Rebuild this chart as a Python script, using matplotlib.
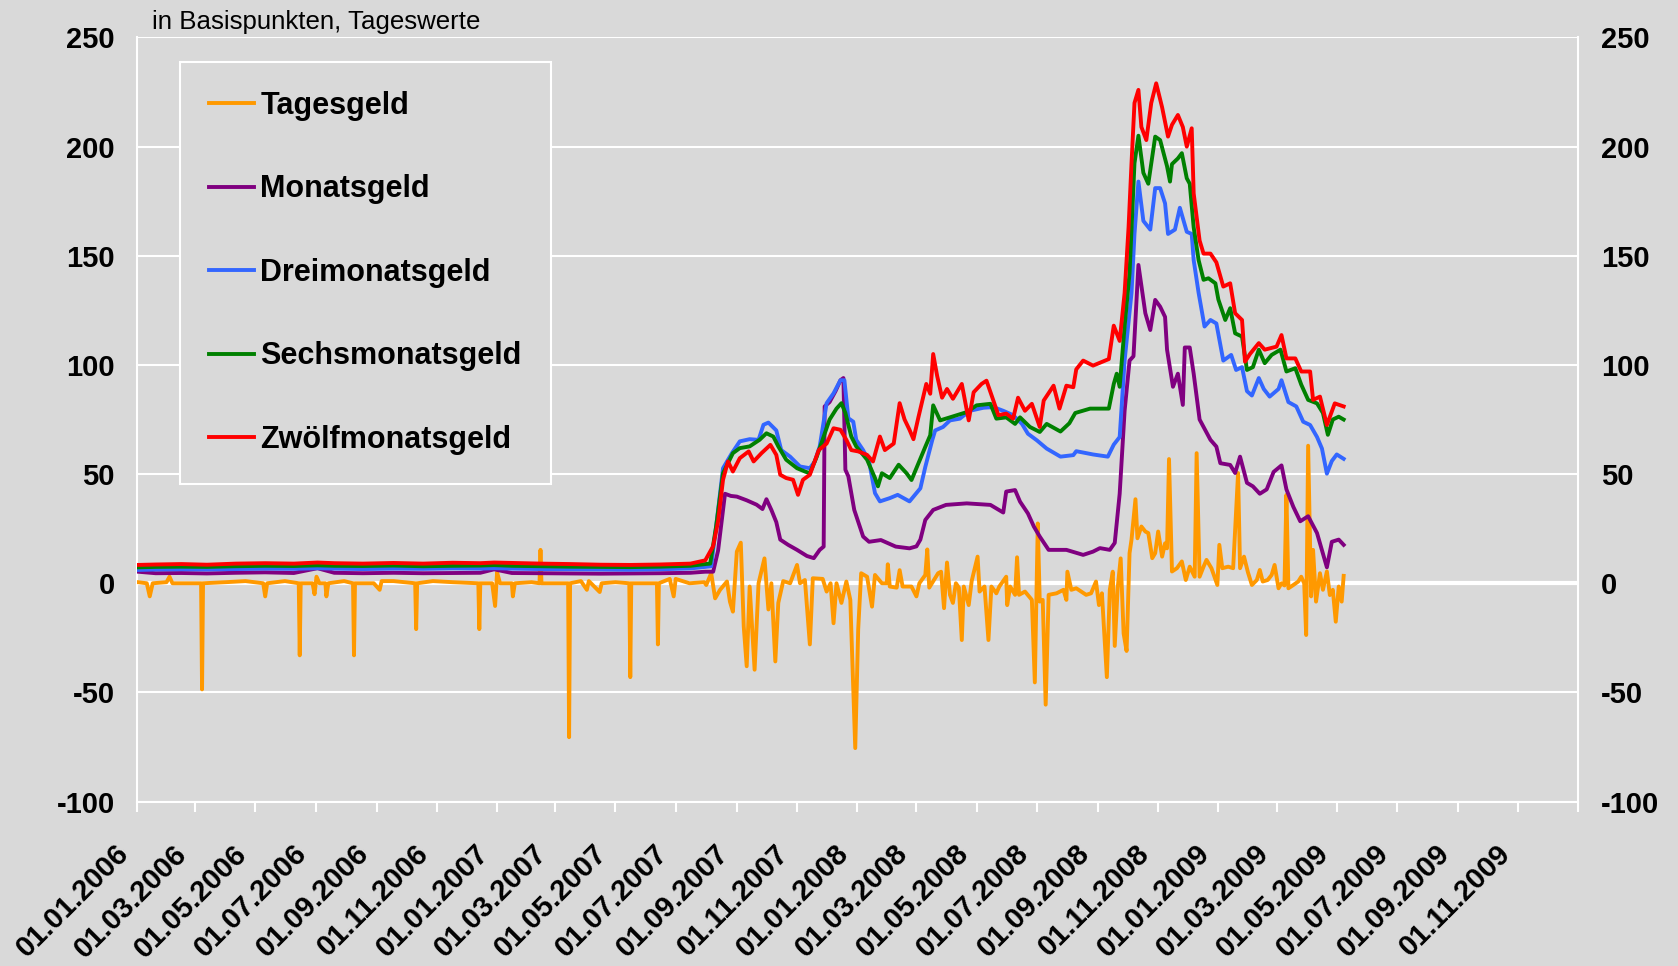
import matplotlib
matplotlib.use('Agg')
import matplotlib.pyplot as plt
import matplotlib.transforms as mtransforms
import pandas as pd

# Geldmarktsätze minus Leitzins, in Basispunkten
tagesgeld = [
    ('2006-01-02', 0.5), ('2006-01-11', 0), ('2006-01-14', -6), ('2006-01-17', 0),
    ('2006-01-31', 0.5), ('2006-02-03', 3), ('2006-02-06', 0), ('2006-03-02', 0),
    ('2006-03-07', 0), ('2006-03-08', -48.6), ('2006-03-09', 0), ('2006-04-01', 0.5),
    ('2006-04-21', 1), ('2006-05-09', 0), ('2006-05-11', -6), ('2006-05-13', 0),
    ('2006-05-31', 1), ('2006-06-14', 0), ('2006-06-15', -33), ('2006-06-16', 0),
    ('2006-06-28', 0), ('2006-06-30', -5), ('2006-07-02', 3), ('2006-07-05', 0),
    ('2006-07-11', 0), ('2006-07-12', -6), ('2006-07-14', 0), ('2006-07-30', 1),
    ('2006-08-08', 0), ('2006-08-09', -33), ('2006-08-10', 0), ('2006-08-29', 0),
    ('2006-09-04', -3), ('2006-09-06', 1), ('2006-09-18', 1), ('2006-10-10', 0),
    ('2006-10-11', -21), ('2006-10-12', 0), ('2006-10-28', 1), ('2006-11-17', 0.5),
    ('2006-12-13', 0), ('2006-12-14', -21), ('2006-12-15', 0), ('2006-12-27', 0),
    ('2006-12-30', -10.4), ('2007-01-01', 5), ('2007-01-04', 0), ('2007-01-16', 0),
    ('2007-01-17', -6), ('2007-01-19', 0), ('2007-02-05', 0.5), ('2007-02-13', 0),
    ('2007-02-14', 15.3), ('2007-02-15', 0), ('2007-02-25', 0), ('2007-03-14', 0),
    ('2007-03-15', -70.5), ('2007-03-16', 0), ('2007-03-27', 1), ('2007-04-02', -3),
    ('2007-04-04', 1), ('2007-04-15', -4), ('2007-04-17', 0), ('2007-05-01', 0.5),
    ('2007-05-15', 0), ('2007-05-16', -43), ('2007-05-17', 0), ('2007-05-31', 0),
    ('2007-06-12', 0), ('2007-06-13', -28), ('2007-06-14', 0), ('2007-06-25', 2),
    ('2007-06-29', -6), ('2007-07-01', 2), ('2007-07-15', 0), ('2007-07-30', 0.5),
    ('2007-08-01', -0.8), ('2007-08-06', 4.6), ('2007-08-10', -6.9), ('2007-08-15', -3),
    ('2007-08-22', 0.8), ('2007-08-25', -8.4), ('2007-08-28', -13), ('2007-09-01', 14.5),
    ('2007-09-05', 18.6), ('2007-09-08', -19.8), ('2007-09-11', -38), ('2007-09-14', -1.5),
    ('2007-09-19', -39.6), ('2007-09-23', 0), ('2007-09-29', 11.4), ('2007-10-03', -12),
    ('2007-10-06', 0), ('2007-10-10', -35.8), ('2007-10-13', -9), ('2007-10-18', 1),
    ('2007-10-25', 0), ('2007-11-01', 8.4), ('2007-11-04', 0), ('2007-11-09', 1.5),
    ('2007-11-14', -28), ('2007-11-17', 2.3), ('2007-11-27', 2), ('2007-12-01', -3.8),
    ('2007-12-05', 0), ('2007-12-08', -18.3), ('2007-12-11', 0), ('2007-12-16', -9),
    ('2007-12-21', 0.8), ('2007-12-25', -7.6), ('2007-12-30', -75.5), ('2008-01-02', -21),
    ('2008-01-05', 4.6), ('2008-01-11', 3), ('2008-01-16', -10.7), ('2008-01-19', 3.8),
    ('2008-01-26', 0), ('2008-01-31', 0), ('2008-02-01', 8.7), ('2008-02-03', -1.5),
    ('2008-02-10', -2), ('2008-02-13', 6), ('2008-02-16', -1.5), ('2008-02-25', -1.5),
    ('2008-03-01', -6), ('2008-03-04', 0), ('2008-03-10', 3.8), ('2008-03-12', 15.5),
    ('2008-03-14', -2), ('2008-03-23', 4.6), ('2008-03-26', 5.3), ('2008-03-29', -11.4),
    ('2008-04-01', 9.5), ('2008-04-04', -5.3), ('2008-04-07', -9), ('2008-04-10', 0),
    ('2008-04-13', -2), ('2008-04-16', -26), ('2008-04-18', -1.5), ('2008-04-23', -10),
    ('2008-04-26', 1), ('2008-05-02', 12.2), ('2008-05-04', -3.8), ('2008-05-09', -1.5),
    ('2008-05-13', -26), ('2008-05-16', -1.5), ('2008-05-21', -4.6), ('2008-05-24', -1.5),
    ('2008-05-31', 3), ('2008-06-01', -10), ('2008-06-04', -1.5), ('2008-06-09', -5.3),
    ('2008-06-11', 11.9), ('2008-06-13', -5.3), ('2008-06-19', -3.8), ('2008-06-26', -7.6),
    ('2008-06-29', -45.4), ('2008-07-02', 27.4), ('2008-07-04', -8.4), ('2008-07-07', -7.6),
    ('2008-07-10', -55.6), ('2008-07-13', -5.3), ('2008-07-21', -4.6), ('2008-07-28', -3),
    ('2008-07-31', -7.6), ('2008-08-01', 5.3), ('2008-08-05', -3), ('2008-08-10', -2.3),
    ('2008-08-15', -3.8), ('2008-08-20', -5.3), ('2008-08-25', -4.6), ('2008-08-30', 0.8),
    ('2008-09-02', -10), ('2008-09-05', -4.6), ('2008-09-10', -43), ('2008-09-13', -3),
    ('2008-09-16', 5.3), ('2008-09-18', -28.7), ('2008-09-21', -2), ('2008-09-24', 11.4),
    ('2008-09-27', -23), ('2008-09-30', -31), ('2008-10-03', 13.8), ('2008-10-05', 20),
    ('2008-10-09', 38.5), ('2008-10-11', 20.6), ('2008-10-15', 26), ('2008-10-19', 23.7),
    ('2008-10-22', 23), ('2008-10-26', 11.5), ('2008-10-29', 13.8), ('2008-11-01', 23.7),
    ('2008-11-05', 12.2), ('2008-11-08', 18.3), ('2008-11-10', 16), ('2008-11-12', 56.9),
    ('2008-11-15', 5.4), ('2008-11-20', 6.9), ('2008-11-25', 10), ('2008-11-29', 1.5),
    ('2008-12-03', 7.6), ('2008-12-08', 3), ('2008-12-10', 59.6), ('2008-12-13', 3),
    ('2008-12-17', 7.6), ('2008-12-20', 10.7), ('2008-12-25', 6.9), ('2008-12-31', -0.8),
    ('2009-01-02', 17.6), ('2009-01-05', 6.9), ('2009-01-11', 7.6), ('2009-01-16', 6.9),
    ('2009-01-21', 50.5), ('2009-01-23', 6.9), ('2009-01-27', 12.2), ('2009-01-31', 5),
    ('2009-02-04', -0.8), ('2009-02-09', 1.5), ('2009-02-12', 6.1), ('2009-02-15', 0.8),
    ('2009-02-20', 1.5), ('2009-02-24', 3.8), ('2009-02-27', 8.4), ('2009-03-03', -2.3),
    ('2009-03-06', 0), ('2009-03-09', -1), ('2009-03-11', 40.5), ('2009-03-13', -2.3),
    ('2009-03-18', -0.8), ('2009-03-23', 0.8), ('2009-03-26', 3), ('2009-03-29', 0),
    ('2009-03-31', -23.7), ('2009-04-02', 63), ('2009-04-05', -6), ('2009-04-07', 15.3),
    ('2009-04-10', -8.4), ('2009-04-14', 4.6), ('2009-04-17', -3), ('2009-04-21', 5.4),
    ('2009-04-24', -5.4), ('2009-04-27', -3), ('2009-04-30', -17.6), ('2009-05-03', -1.5),
    ('2009-05-06', -8.4), ('2009-05-08', 3.4),
]

monatsgeld = [
    ('2006-01-02', 5.3), ('2006-01-20', 4.6), ('2006-02-15', 4.7), ('2006-03-13', 4.5),
    ('2006-04-11', 4.8), ('2006-05-11', 5.0), ('2006-06-09', 4.7), ('2006-07-03', 6.9),
    ('2006-07-20', 4.8), ('2006-08-18', 4.6), ('2006-09-18', 4.8), ('2006-10-18', 4.6),
    ('2006-11-17', 4.7), ('2006-12-15', 4.8), ('2006-12-29', 6.4), ('2007-01-16', 4.7),
    ('2007-02-15', 4.6), ('2007-03-16', 4.5), ('2007-04-16', 4.4), ('2007-05-16', 4.5),
    ('2007-06-15', 4.6), ('2007-07-16', 4.8), ('2007-07-31', 5.3),
    ('2007-08-08', 5.3), ('2007-08-13', 15), ('2007-08-20', 41), ('2007-08-26', 40),
    ('2007-09-01', 39.7), ('2007-09-11', 38), ('2007-09-21', 36), ('2007-09-27', 34),
    ('2007-10-01', 38.5), ('2007-10-06', 33.6), ('2007-10-11', 28), ('2007-10-15', 20),
    ('2007-10-23', 17.6), ('2007-11-01', 15.3), ('2007-11-11', 12.5), ('2007-11-18', 11.5),
    ('2007-11-24', 15.3), ('2007-11-28', 16.8), ('2007-11-29', 81), ('2007-12-04', 83),
    ('2007-12-10', 88), ('2007-12-15', 93), ('2007-12-18', 94), ('2007-12-20', 52),
    ('2007-12-23', 49), ('2007-12-29', 33.6), ('2008-01-07', 21.4), ('2008-01-13', 19),
    ('2008-01-25', 19.8), ('2008-02-09', 16.8), ('2008-02-23', 16), ('2008-03-01', 16.9),
    ('2008-03-05', 20), ('2008-03-10', 29), ('2008-03-18', 33.6), ('2008-03-31', 35.9),
    ('2008-04-21', 36.6), ('2008-05-15', 35.9), ('2008-05-28', 32.4), ('2008-05-31', 42),
    ('2008-06-09', 42.7), ('2008-06-14', 37.4), ('2008-06-22', 32), ('2008-06-28', 26),
    ('2008-07-04', 21.4), ('2008-07-13', 15.3), ('2008-07-31', 15.3), ('2008-08-17', 13),
    ('2008-08-27', 14.5), ('2008-09-03', 16.1), ('2008-09-13', 15.3), ('2008-09-18', 18.5),
    ('2008-09-23', 41), ('2008-09-28', 79), ('2008-10-03', 102), ('2008-10-07', 104),
    ('2008-10-12', 145.8), ('2008-10-19', 123.7), ('2008-10-24', 116), ('2008-10-29', 129.8),
    ('2008-11-03', 126.7), ('2008-11-08', 122), ('2008-11-10', 107), ('2008-11-16', 90),
    ('2008-11-21', 96), ('2008-11-26', 81.7), ('2008-11-28', 108), ('2008-12-03', 108),
    ('2008-12-07', 96), ('2008-12-13', 75), ('2008-12-24', 65.7), ('2008-12-30', 62.6),
    ('2009-01-03', 55), ('2009-01-13', 54.2), ('2009-01-18', 50.5), ('2009-01-23', 58),
    ('2009-01-30', 46), ('2009-02-05', 44.4), ('2009-02-12', 41), ('2009-02-19', 43),
    ('2009-02-26', 51), ('2009-03-06', 54), ('2009-03-11', 43), ('2009-03-18', 35),
    ('2009-03-25', 28.4), ('2009-04-02', 30.7), ('2009-04-11', 23), ('2009-04-21', 7.3),
    ('2009-04-26', 19), ('2009-05-03', 20), ('2009-05-08', 17.6),
]

dreimonatsgeld = [
    ('2006-01-02', 6.1), ('2006-01-20', 6.3), ('2006-02-15', 6.4), ('2006-03-13', 6.3),
    ('2006-04-11', 6.5), ('2006-05-11', 6.7), ('2006-06-09', 6.6), ('2006-07-03', 6.9),
    ('2006-07-20', 6.7), ('2006-08-18', 6.5), ('2006-09-18', 6.7), ('2006-10-18', 6.6),
    ('2006-11-17', 6.8), ('2006-12-15', 6.7), ('2006-12-29', 6.9), ('2007-01-16', 6.7),
    ('2007-02-15', 6.5), ('2007-03-16', 6.4), ('2007-04-16', 6.3), ('2007-05-16', 6.2),
    ('2007-06-15', 6.4), ('2007-07-16', 6.8), ('2007-07-31', 7.5),
    ('2007-08-06', 7.8), ('2007-08-11', 26), ('2007-08-18', 52.7), ('2007-08-27', 59.6),
    ('2007-09-04', 65), ('2007-09-14', 66), ('2007-09-23', 65.7), ('2007-09-28', 72.6),
    ('2007-10-03', 73.6), ('2007-10-11', 70), ('2007-10-16', 61), ('2007-10-25', 58),
    ('2007-11-04', 53.5), ('2007-11-14', 52.7), ('2007-11-19', 55.8), ('2007-11-24', 62.7),
    ('2007-12-01', 82.5), ('2007-12-08', 87), ('2007-12-15', 93), ('2007-12-19', 93),
    ('2007-12-23', 75.6), ('2007-12-28', 74), ('2007-12-31', 65.7), ('2008-01-07', 61),
    ('2008-01-13', 55.8), ('2008-01-19', 41.3), ('2008-01-24', 37.5), ('2008-02-03', 39),
    ('2008-02-11', 40.5), ('2008-02-23', 37.5), ('2008-03-05', 43.5), ('2008-03-10', 53.3),
    ('2008-03-17', 65.5), ('2008-03-20', 70), ('2008-03-28', 71.6), ('2008-04-04', 74.6),
    ('2008-04-14', 75.4), ('2008-04-24', 79), ('2008-05-08', 80.4), ('2008-05-18', 80.7),
    ('2008-05-28', 79), ('2008-06-07', 77), ('2008-06-16', 73), ('2008-06-22', 68.5),
    ('2008-07-01', 65.5), ('2008-07-11', 61.7), ('2008-07-25', 58), ('2008-08-07', 58.7),
    ('2008-08-10', 60.5), ('2008-08-27', 59), ('2008-09-11', 58), ('2008-09-17', 63.5),
    ('2008-09-23', 67), ('2008-09-28', 102), ('2008-10-05', 133), ('2008-10-08', 160),
    ('2008-10-12', 184), ('2008-10-17', 166), ('2008-10-24', 162), ('2008-10-29', 181),
    ('2008-11-03', 181), ('2008-11-08', 174), ('2008-11-11', 160), ('2008-11-18', 162),
    ('2008-11-23', 172), ('2008-11-30', 161), ('2008-12-05', 160), ('2008-12-07', 148),
    ('2008-12-12', 133), ('2008-12-18', 117.6), ('2008-12-24', 120.6), ('2008-12-30', 119),
    ('2009-01-06', 102), ('2009-01-14', 104.6), ('2009-01-19', 97.7), ('2009-01-25', 99),
    ('2009-01-30', 88), ('2009-02-04', 86), ('2009-02-11', 94), ('2009-02-16', 89),
    ('2009-02-22', 85.5), ('2009-03-03', 89), ('2009-03-06', 93), ('2009-03-13', 83),
    ('2009-03-21', 81), ('2009-03-28', 74), ('2009-04-04', 72.5), ('2009-04-11', 67),
    ('2009-04-16', 61.7), ('2009-04-21', 50.2), ('2009-04-26', 56), ('2009-05-01', 59),
    ('2009-05-08', 57),
]

sechsmonatsgeld = [
    ('2006-01-02', 7.3), ('2006-01-20', 7.5), ('2006-02-15', 7.6), ('2006-03-13', 7.5),
    ('2006-04-11', 7.8), ('2006-05-11', 8.0), ('2006-06-09', 7.9), ('2006-07-03', 8.2),
    ('2006-07-20', 8.0), ('2006-08-18', 7.9), ('2006-09-18', 8.1), ('2006-10-18', 7.8),
    ('2006-11-17', 8.0), ('2006-12-15', 8.1), ('2006-12-29', 8.3), ('2007-01-16', 8.0),
    ('2007-02-15', 7.8), ('2007-03-16', 7.6), ('2007-04-16', 7.5), ('2007-05-16', 7.4),
    ('2007-06-15', 7.6), ('2007-07-16', 8.0), ('2007-07-31', 8.8),
    ('2007-08-05', 9), ('2007-08-11', 26), ('2007-08-18', 50.4), ('2007-08-28', 59.6),
    ('2007-09-04', 61.9), ('2007-09-14', 62.7), ('2007-09-24', 65.7), ('2007-10-01', 68.7),
    ('2007-10-08', 67.2), ('2007-10-13', 62.7), ('2007-10-21', 56.6), ('2007-11-01', 52.7),
    ('2007-11-09', 51.2), ('2007-11-14', 50.4), ('2007-11-21', 58), ('2007-11-28', 67.2),
    ('2007-12-04', 75), ('2007-12-11', 80), ('2007-12-16', 82.5), ('2007-12-20', 78),
    ('2007-12-26', 67.2), ('2007-12-31', 62.7), ('2008-01-11', 56.6), ('2008-01-19', 48.2),
    ('2008-01-22', 44.4), ('2008-01-26', 50.4), ('2008-02-03', 48.2), ('2008-02-12', 54.3),
    ('2008-02-20', 50.4), ('2008-02-25', 47.3), ('2008-03-03', 54.9), ('2008-03-10', 62.5),
    ('2008-03-15', 67.8), ('2008-03-18', 81.5), ('2008-03-25', 74.6), ('2008-04-04', 76),
    ('2008-04-21', 78.4), ('2008-05-01', 81.5), ('2008-05-15', 82.2), ('2008-05-21', 75.4),
    ('2008-05-31', 76), ('2008-06-09', 73), ('2008-06-14', 76), ('2008-06-24', 71.6),
    ('2008-07-04', 69.3), ('2008-07-11', 73), ('2008-07-25', 69.5), ('2008-08-03', 73.3),
    ('2008-08-09', 78), ('2008-08-24', 80), ('2008-09-12', 80), ('2008-09-17', 91.3),
    ('2008-09-20', 96), ('2008-09-23', 90), ('2008-09-28', 117.6), ('2008-10-03', 142),
    ('2008-10-08', 192.4), ('2008-10-12', 205), ('2008-10-17', 188), ('2008-10-22', 183),
    ('2008-10-29', 204.6), ('2008-11-03', 203), ('2008-11-10', 191), ('2008-11-13', 184),
    ('2008-11-15', 192), ('2008-11-21', 194.6), ('2008-11-25', 197), ('2008-11-30', 185.5),
    ('2008-12-03', 183), ('2008-12-07', 163), ('2008-12-12', 148), ('2008-12-17', 139),
    ('2008-12-22', 139.7), ('2008-12-29', 137.4), ('2009-01-01', 130), ('2009-01-08', 120.6),
    ('2009-01-13', 126), ('2009-01-18', 114.5), ('2009-01-25', 113), ('2009-01-30', 97.7),
    ('2009-02-05', 99), ('2009-02-11', 107), ('2009-02-17', 100.8), ('2009-02-24', 104.6),
    ('2009-03-05', 107), ('2009-03-11', 97), ('2009-03-20', 98.5), ('2009-03-26', 91),
    ('2009-04-02', 84), ('2009-04-11', 82.4), ('2009-04-17', 78), ('2009-04-22', 68),
    ('2009-04-27', 75), ('2009-05-03', 76.3), ('2009-05-08', 75),
]

zwoelfmonatsgeld = [
    ('2006-01-02', 8.4), ('2006-01-20', 8.6), ('2006-02-15', 8.8), ('2006-03-13', 8.5),
    ('2006-04-11', 9.0), ('2006-05-11', 9.2), ('2006-06-09', 9.0), ('2006-07-03', 9.5),
    ('2006-07-20', 9.2), ('2006-08-18', 9.0), ('2006-09-18', 9.3), ('2006-10-18', 9.0),
    ('2006-11-17', 9.4), ('2006-12-15', 9.2), ('2006-12-29', 9.5), ('2007-01-16', 9.3),
    ('2007-02-15', 9.0), ('2007-03-16', 8.8), ('2007-04-16', 8.5), ('2007-05-16', 8.4),
    ('2007-06-15', 8.6), ('2007-07-16', 9.0), ('2007-07-31', 10.5),
    ('2007-08-08', 17), ('2007-08-13', 28.4), ('2007-08-18', 47.4), ('2007-08-23', 55.8),
    ('2007-08-28', 51.2), ('2007-09-04', 57.3), ('2007-09-13', 60.4), ('2007-09-18', 55.8),
    ('2007-09-26', 59.6), ('2007-10-05', 63.4), ('2007-10-11', 58.8), ('2007-10-15', 49.7),
    ('2007-10-21', 48.2), ('2007-10-28', 47.4), ('2007-11-02', 40.5), ('2007-11-07', 47.4),
    ('2007-11-14', 49.7), ('2007-11-23', 61), ('2007-12-01', 64), ('2007-12-08', 71),
    ('2007-12-15', 70.3), ('2007-12-21', 65.7), ('2007-12-26', 61), ('2008-01-02', 60.4),
    ('2008-01-11', 58.8), ('2008-01-17', 55.8), ('2008-01-24', 67.2), ('2008-01-29', 61),
    ('2008-02-07', 64), ('2008-02-13', 82.5), ('2008-02-18', 75), ('2008-02-23', 70.3),
    ('2008-02-27', 66), ('2008-03-03', 76), ('2008-03-11', 91.3), ('2008-03-15', 86.8),
    ('2008-03-18', 105), ('2008-03-22', 95), ('2008-03-27', 85), ('2008-04-01', 89),
    ('2008-04-07', 84.5), ('2008-04-16', 91.3), ('2008-04-23', 74.6), ('2008-04-28', 87.5),
    ('2008-05-06', 91.3), ('2008-05-11', 92.8), ('2008-05-18', 83.7), ('2008-05-23', 77),
    ('2008-05-31', 77.7), ('2008-06-07', 75.4), ('2008-06-12', 85), ('2008-06-19', 79),
    ('2008-06-26', 82.2), ('2008-07-04', 71.6), ('2008-07-08', 83.7), ('2008-07-18', 90.5),
    ('2008-07-24', 80), ('2008-07-31', 90.5), ('2008-08-07', 89.8), ('2008-08-10', 98),
    ('2008-08-17', 102), ('2008-08-27', 99.7), ('2008-09-03', 101), ('2008-09-12', 102.7),
    ('2008-09-17', 118), ('2008-09-23', 111), ('2008-09-28', 133), ('2008-10-02', 163),
    ('2008-10-05', 192.4), ('2008-10-08', 220), ('2008-10-12', 226), ('2008-10-15', 209),
    ('2008-10-20', 203), ('2008-10-25', 220), ('2008-10-30', 229), ('2008-11-05', 218),
    ('2008-11-11', 204.6), ('2008-11-15', 210), ('2008-11-21', 214.5), ('2008-11-26', 209),
    ('2008-11-30', 200), ('2008-12-05', 208.4), ('2008-12-07', 178.6), ('2008-12-13', 157),
    ('2008-12-17', 151), ('2008-12-24', 151), ('2008-12-30', 147), ('2009-01-06', 135.9),
    ('2009-01-13', 137.4), ('2009-01-18', 123.7), ('2009-01-25', 120.6), ('2009-01-28', 101.5),
    ('2009-02-02', 105), ('2009-02-11', 110), ('2009-02-17', 107), ('2009-03-01', 108.4),
    ('2009-03-06', 113.7), ('2009-03-11', 103), ('2009-03-20', 103), ('2009-03-26', 97),
    ('2009-04-04', 97), ('2009-04-07', 84), ('2009-04-14', 85.5), ('2009-04-21', 72.5),
    ('2009-04-29', 82.4), ('2009-05-08', 81),
]

reihen = ['Tagesgeld', 'Monatsgeld', 'Dreimonatsgeld', 'Sechsmonatsgeld', 'Zwölfmonatsgeld']
farben = ['#ff9900', '#800080', '#3366ff', '#008000', '#ff0000']
x_labels = ['01.01.2006', '01.03.2006', '01.05.2006', '01.07.2006', '01.09.2006', '01.11.2006',
            '01.01.2007', '01.03.2007', '01.05.2007', '01.07.2007', '01.09.2007', '01.11.2007',
            '01.01.2008', '01.03.2008', '01.05.2008', '01.07.2008', '01.09.2008', '01.11.2008',
            '01.01.2009', '01.03.2009', '01.05.2009', '01.07.2009', '01.09.2009', '01.11.2009']
y_ticks = [-100, -50, 0, 50, 100, 150, 200, 250]

grau = '#d9d9d9'
plt.rcParams['font.family'] = ['Liberation Sans', 'DejaVu Sans']

fig = plt.figure(figsize=(16.78, 9.66), dpi=100, facecolor=grau)
ax = fig.add_axes([0.0816, 0.1702, 0.8591, 0.7910], facecolor=grau)

for name, daten, farbe in zip(reihen, [tagesgeld, monatsgeld, dreimonatsgeld,
                                        sechsmonatsgeld, zwoelfmonatsgeld], farben):
    df = pd.DataFrame(daten, columns=['datum', 'wert'])
    df['datum'] = pd.to_datetime(df['datum'])
    ax.plot(df['datum'], df['wert'], color=farbe, lw=2.8, label=name, zorder=3)

# achsen
ax.set_ylim(-100, 250)
ax.set_yticks(y_ticks)
ax.set_yticklabels([str(v) for v in y_ticks])
ax.yaxis.grid(True, color='white', lw=1.5)
ax.set_axisbelow(True)
ax.axhline(0, color='white', lw=3, zorder=2)
ax.tick_params(axis='y', length=0, pad=16, labelsize=21, labelright=True)

start, ende = pd.Timestamp('2006-01-01'), pd.Timestamp('2010-01-01')
ax.set_xlim(start, ende)
ticks = list(pd.to_datetime(x_labels, format='%d.%m.%Y')) + [ende]
ax.set_xticks(ticks)
ax.set_xticklabels(x_labels + [''], rotation=45, ha='right', va='center',
                   rotation_mode='anchor')
ax.tick_params(axis='x', direction='out', length=7.5, width=1.5, color='white',
               pad=27, labelsize=21)

# datumslabels etwas links vom tick, wie in excel
shift = mtransforms.ScaledTranslation(-9 / 72, 0, fig.dpi_scale_trans)
for lab in ax.get_xticklabels():
    lab.set_transform(lab.get_transform() + shift)

for lab in ax.get_xticklabels() + ax.get_yticklabels():
    lab.set_fontweight('bold')
for t in ax.yaxis.get_major_ticks():
    t.label2.set_fontweight('bold')

for s in ['left', 'right', 'bottom']:
    ax.spines[s].set_color('white')
    ax.spines[s].set_linewidth(1.5)
ax.spines['top'].set_visible(False)

leg = ax.legend(loc='upper left', bbox_to_anchor=(0.0298, 0.968), borderaxespad=0,
                frameon=True, fancybox=False, facecolor=grau, edgecolor='white',
                framealpha=1, borderpad=0.95, labelspacing=1.75, handlelength=1.47,
                handletextpad=0.21, prop={'weight': 'bold', 'size': 22})
leg.get_frame().set_linewidth(1.5)

fig.text(152 / 1678, 1 - 29 / 966, 'in Basispunkten, Tageswerte', fontsize=18.6,
         va='baseline', ha='left')

fig.savefig('out.png', dpi=100, facecolor=grau)
